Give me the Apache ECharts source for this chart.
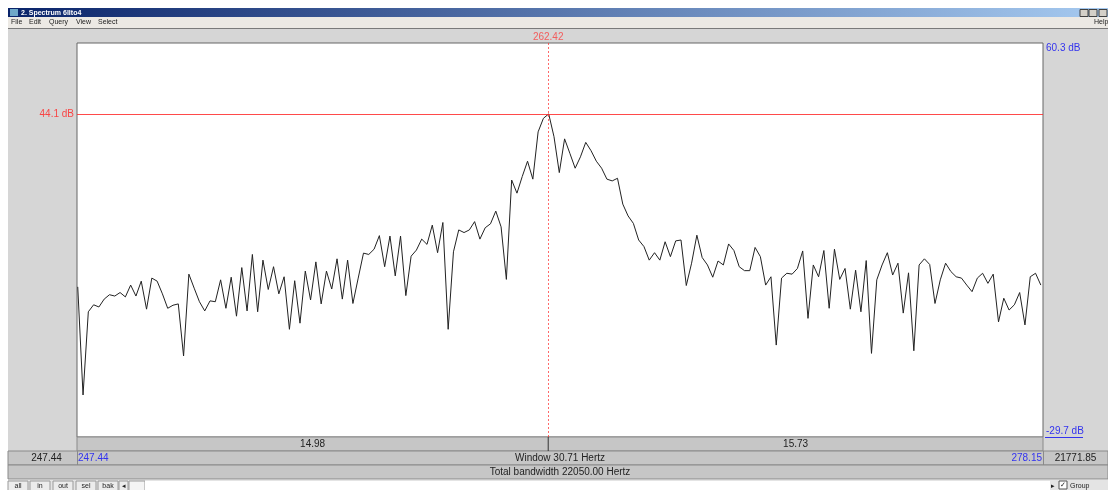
<!DOCTYPE html>
<html>
<head>
<meta charset="utf-8">
<script src="https://cdn.jsdelivr.net/npm/echarts@6/dist/echarts.min.js"></script>
<style>
  html, body { margin: 0; padding: 0; background: #ffffff; }
  #chart { width: 1108px; height: 490px; }
</style>
</head>
<body>
<div id="chart"></div>
<script>
// Spectrum of a 44.1 kHz sound: bins spaced Nyquist / 131072 apart
const nyquist = 22050;
const binWidth = nyquist / 131072;
const firstBin = 1471;

// Sound pressure level per bin (dB/Hz), starting at firstBin
const levelsDb = [
  4.6, -20.1, -1.1, 0.5, 0.0, 1.8, 2.8, 2.5, 3.3, 2.3,
  5.0, 2.5, 5.9, -0.5, 6.6, 5.9, 3.0, -0.3, 0.4, 0.7,
  -11.2, 7.5, 4.3, 1.2, -0.9, 1.4, 1.2, 6.2, -0.3, 6.8,
  -2.1, 9.0, -0.9, 12.0, -1.1, 10.7, 4.0, 9.2, 3.0, 6.9,
  -5.1, 6.0, -3.7, 8.2, 1.6, 10.3, 0.7, 8.2, 4.1, 11.0,
  1.8, 10.7, 0.8, 6.6, 12.3, 12.0, 13.2, 16.3, 9.2, 16.2,
  7.1, 16.2, 2.6, 11.6, 13.0, 15.5, 14.3, 18.7, 12.4, 19.3,
  -5.1, 12.6, 17.6, 17.0, 17.6, 19.5, 15.5, 18.1, 19.0, 21.9,
  18.3, 6.3, 29.0, 26.0, 29.8, 33.3, 29.2, 40.0, 43.1, 44.1,
  38.9, 30.7, 38.4, 35.1, 31.7, 34.3, 37.6, 35.7, 33.3, 31.7,
  29.2, 28.8, 29.4, 23.5, 20.8, 19.1, 15.3, 13.8, 10.7, 12.4,
  10.7, 14.9, 11.5, 15.1, 15.3, 4.9, 10.0, 16.4, 11.3, 9.6,
  6.8, 10.5, 9.6, 14.4, 12.9, 9.2, 8.3, 8.3, 13.6, 11.5,
  5.0, 6.9, -8.7, 6.6, 7.7, 7.5, 8.8, 12.8, -2.6, 9.6,
  6.9, 12.9, -0.3, 13.2, 6.3, 8.8, -0.5, 8.4, -1.1, 10.6,
  -10.6, 6.2, 9.6, 12.4, 7.3, 10.0, -1.4, 7.8, -10.0, 9.6,
  11.0, 9.7, 0.8, 6.2, 10.0, 8.1, 6.9, 6.6, 5.0, 3.5,
  6.6, 7.7, 5.4, 7.5, -3.4, 2.0, -0.7, 0.5, 3.3, -4.1,
  6.9, 7.7, 5.0
];

// Visible window and cursor
const viewFrom = 247.44;
const viewTo = 278.15;
const dbTop = 60.3;
const dbBottom = -29.7;
const cursorFreq = 262.42;
const cursorDb = 44.1;

// Window chrome texts
const windowTitle = '2. Spectrum 6llto4';
const menuItems = ['File', 'Edit', 'Query', 'View', 'Select'];
const menuX = [11, 29, 49, 76, 98];
const buttonLabels = ['all', 'in', 'out', 'sel', 'bak'];

const points = levelsDb.map((v, i) => [(firstBin + i) * binWidth, v]);

const PLOT = { left: 77, top: 43, width: 966, height: 394 };
const RED = '#ff2a2a';
const BLUE = '#3333ee';
const FONT = '"Liberation Sans", Arial, sans-serif';

const chart = echarts.init(document.getElementById('chart'), null, { renderer: 'canvas' });

chart.setOption({
  animation: false,
  backgroundColor: '#ffffff',
  grid: {
    left: PLOT.left, top: PLOT.top, width: PLOT.width, height: PLOT.height,
    show: true, backgroundColor: '#ffffff', borderColor: '#666666', borderWidth: 1
  },
  xAxis: {
    type: 'value', min: viewFrom, max: viewTo,
    axisLine: { show: false }, axisTick: { show: false },
    axisLabel: { show: false }, splitLine: { show: false }
  },
  yAxis: {
    type: 'value', min: dbBottom, max: dbTop,
    axisLine: { show: false }, axisTick: { show: false },
    axisLabel: { show: false }, splitLine: { show: false }
  },
  series: [{
    type: 'line',
    data: points,
    showSymbol: false,
    symbol: 'none',
    clip: true,
    lineStyle: { color: '#222222', width: 1 },
    z: 3,
    markLine: {
      silent: true,
      symbol: 'none',
      animation: false,
      data: [
        {
          yAxis: cursorDb,
          lineStyle: { color: RED, width: 1, type: 'solid', opacity: 0.85 },
          label: {
            show: true, position: 'start', distance: 3,
            formatter: cursorDb.toFixed(1) + ' dB',
            color: RED, fontFamily: FONT, fontSize: 10
          }
        },
        {
          xAxis: cursorFreq,
          lineStyle: { color: RED, width: 1, type: [2, 2], opacity: 0.7 },
          label: {
            show: true, position: 'end', distance: 1,
            formatter: cursorFreq.toFixed(2),
            color: RED, fontFamily: FONT, fontSize: 10
          }
        }
      ]
    }
  }]
});

// Pixel positions derived from the axes
const xL = chart.convertToPixel({ gridIndex: 0 }, [viewFrom, 0])[0];
const xR = chart.convertToPixel({ gridIndex: 0 }, [viewTo, 0])[0];
const xC = chart.convertToPixel({ gridIndex: 0 }, [cursorFreq, 0])[0];
const yT = chart.convertToPixel({ gridIndex: 0 }, [0, dbTop])[1];
const yB = chart.convertToPixel({ gridIndex: 0 }, [0, dbBottom])[1];

const W = 1108;
const ROW1 = 437, ROW2 = 451, ROW3 = 465, ROW4 = 479;
const rowFill = '#c6c6c6';
const rowStroke = '#8a8a8a';

function txt(x, y, text, opt) {
  return {
    type: 'text', x: x, y: y, silent: true, z: 10,
    style: Object.assign({
      text: text, fill: '#222222', font: '10px ' + FONT,
      align: 'left', verticalAlign: 'middle'
    }, opt || {})
  };
}
function rect(x, y, w, h, fill, stroke, z) {
  return {
    type: 'rect', silent: true, z: z == null ? 1 : z,
    shape: { x: x, y: y, width: w, height: h },
    style: { fill: fill, stroke: stroke || null, lineWidth: 1 }
  };
}
function line(x1, y1, x2, y2, color, z) {
  return {
    type: 'line', silent: true, z: z == null ? 5 : z,
    shape: { x1: x1, y1: y1, x2: x2, y2: y2 },
    style: { stroke: color, lineWidth: 1 }
  };
}

const g = [];
// window body
g.push(rect(8, 28, W - 8, ROW4 - 28, '#d6d6d6', null, -5));
// title bar
g.push({
  type: 'rect', silent: true, z: 1,
  shape: { x: 8, y: 8, width: W - 8, height: 9 },
  style: {
    fill: new echarts.graphic.LinearGradient(0, 0, 1, 0, [
      { offset: 0, color: '#0a246a' }, { offset: 1, color: '#a6caf0' }
    ])
  }
});
g.push(rect(10, 9, 8, 7, '#6fa8c8', null, 2));
g.push(txt(21, 12.8, windowTitle, { fill: '#ffffff', font: 'bold 7px ' + FONT }));
[1080, 1089, 1099].forEach(x => g.push(rect(x, 9.5, 8, 7, '#d4d0c8', '#404040', 2)));
// menu bar
g.push(rect(8, 17, W - 8, 11, '#ece9e4', null, 1));
menuItems.forEach((m, i) => g.push(txt(menuX[i], 22.5, m, { font: '7px ' + FONT })));
g.push(txt(1094, 22.5, 'Help', { font: '7px ' + FONT }));
g.push(line(8, 28.5, W, 28.5, '#7a7a7a', 2));

// right-hand dB bounds
g.push(txt(xR + 3, yT + 5, dbTop.toFixed(1) + ' dB', { fill: BLUE }));
g.push(txt(xR + 3, yB - 6, dbBottom.toFixed(1) + ' dB', { fill: BLUE }));
g.push(line(xR + 2, yB + 0.5, xR + 40, yB + 0.5, BLUE, 6));

// row 1: widths left and right of the cursor
g.push(rect(xL, ROW1, xR - xL, ROW2 - ROW1, rowFill, rowStroke, 1));
g.push(line(xC, ROW1, xC, ROW2, '#333333', 6));
g.push(txt((xL + xC) / 2, (ROW1 + ROW2) / 2 + 0.5, (cursorFreq - viewFrom).toFixed(2), { align: 'center' }));
g.push(txt((xC + xR) / 2, (ROW1 + ROW2) / 2 + 0.5, (viewTo - cursorFreq).toFixed(2), { align: 'center' }));

// row 2: visible window
g.push(rect(8, ROW2, W - 8, ROW3 - ROW2, rowFill, rowStroke, 1));
g.push(line(xL + 0.5, ROW2, xL + 0.5, ROW3, rowStroke, 6));
g.push(line(xR + 0.5, ROW2, xR + 0.5, ROW3, rowStroke, 6));
g.push(txt((8 + xL) / 2 + 4, (ROW2 + ROW3) / 2 + 0.5, viewFrom.toFixed(2), { align: 'center' }));
g.push(txt(xL + 1, (ROW2 + ROW3) / 2 + 0.5, viewFrom.toFixed(2), { fill: BLUE }));
g.push(txt((xL + xR) / 2, (ROW2 + ROW3) / 2 + 0.5, 'Window ' + (viewTo - viewFrom).toFixed(2) + ' Hertz', { align: 'center' }));
g.push(txt(xR - 1, (ROW2 + ROW3) / 2 + 0.5, viewTo.toFixed(2), { fill: BLUE, align: 'right' }));
g.push(txt((xR + W) / 2, (ROW2 + ROW3) / 2 + 0.5, (nyquist - viewTo).toFixed(2), { align: 'center' }));

// row 3: total bandwidth
g.push(rect(8, ROW3, W - 8, ROW4 - ROW3, rowFill, rowStroke, 1));
g.push(txt((xL + xR) / 2, (ROW3 + ROW4) / 2 + 0.5, 'Total bandwidth ' + nyquist.toFixed(2) + ' Hertz', { align: 'center' }));

// bottom button bar
g.push(rect(8, ROW4 + 1, W - 8, 490 - ROW4, '#e4e4e4', null, 1));
const btnX = [8, 30, 53, 76, 98];
buttonLabels.forEach((b, i) => {
  g.push(rect(btnX[i], 481, 20, 10, '#ececec', '#9a9a9a', 2));
  g.push(txt(btnX[i] + 10, 486, b, { align: 'center', font: '7px ' + FONT }));
});
g.push(rect(119, 481, 9, 10, '#ececec', '#9a9a9a', 2));
g.push(txt(123.5, 486, '◂', { align: 'center', font: '7px ' + FONT }));
g.push(rect(129, 481, 16, 10, '#f4f4f4', '#9a9a9a', 2));
g.push(rect(145, 481, 905, 10, '#ffffff', null, 2));
g.push(txt(1053, 486, '▸', { align: 'center', font: '7px ' + FONT }));
g.push(rect(1059, 481, 8, 8, '#ffffff', '#555555', 2));
g.push(txt(1063, 485, '✓', { align: 'center', font: '7px ' + FONT }));
g.push(txt(1070, 486, 'Group', { font: '7px ' + FONT }));

chart.setOption({ graphic: { elements: g } });
</script>
</body>
</html>
